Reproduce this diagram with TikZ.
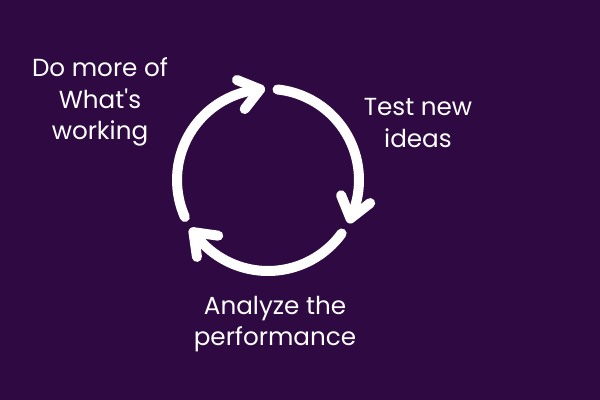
\documentclass[tikz,border=0pt]{standalone}
\usepackage{fontspec}
\setmainfont{Poppins}
\definecolor{bg}{RGB}{46,9,66}
\begin{document}
\begin{tikzpicture}[x=0.75pt,y=0.75pt,
  ring/.style={white, line width=7.5pt, line cap=round, line join=round},
  lbl/.style={white, align=center, inner sep=0pt, font=\fontsize{18.5}{23.8}\selectfont}]
\fill[bg] (0,0) rectangle (600,400);
\coordinate (c) at (268,220);
\foreach \s in {84,-36,-156} {
  \pgfmathsetmacro\e{\s-109}
  \pgfmathsetmacro\a{\e+137}
  \pgfmathsetmacro\b{\e+63}
  \coordinate (t) at ([shift={(\e:91)}]c);
  \draw[ring] ([shift={(\s:91)}]c) arc[start angle=\s, end angle=\e, radius=91];
  \draw[ring] ([shift={(\a:25)}]t) -- (t) -- ([shift={(\b:25)}]t);
}
\node[lbl] (more) at (100,298) {Do more of\\What\textquotesingle s\\working};
\node[lbl] (test) at (418,277) {Test new\\ideas};
\node[lbl] (anal) at (275,76) {Analyze the\\performance};
\end{tikzpicture}
\end{document}
